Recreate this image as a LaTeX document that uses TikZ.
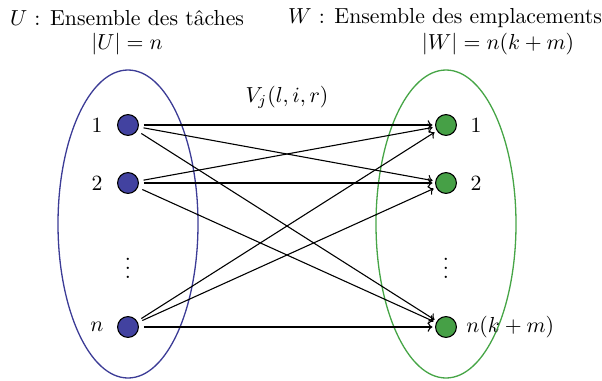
\documentclass[tikz,border=0pt]{standalone}
\usetikzlibrary{arrows.meta}
\definecolor{ublue}{RGB}{66,66,160}
\definecolor{eblue}{RGB}{60,60,150}
\definecolor{wgreen}{RGB}{70,160,70}
\definecolor{egreen}{RGB}{70,165,70}
\begin{document}
\begin{tikzpicture}[x=0.46pt,y=-0.46pt,
  unode/.style={circle,draw=black,fill=ublue,line width=0.5pt,minimum size=9.6pt,inner sep=0pt},
  wnode/.style={circle,draw=black,fill=wgreen,line width=0.5pt,minimum size=9.6pt,inner sep=0pt},
  edge/.style={-{To[length=2.2pt,width=4.4pt]},line width=0.5pt,shorten <=2.2pt,shorten >=1.2pt},
  lbl/.style={inner sep=0pt}]
\useasboundingbox (0,0) rectangle (602,380);
% ellipses
\draw[eblue,line width=0.6pt] (128,224) ellipse [x radius=70, y radius=154];
\draw[egreen,line width=0.6pt] (446,224) ellipse [x radius=70, y radius=154];
% titles
\node[lbl] (tu) at (127,18) {$U$ : Ensemble des t\^aches};
\node[lbl] (tu2) at (127,44) {$|U|=n$};
\node[lbl] (tw) at (445,18) {$W$ : Ensemble des emplacements};
\node[lbl] (tw2) at (498,44) {$|W|=n(k+m)$};
% nodes
\node[unode] (u1) at (128,125) {};
\node[unode] (u2) at (128,183) {};
\node[unode] (un) at (128,327) {};
\node[wnode] (w1) at (446,125) {};
\node[wnode] (w2) at (446,183) {};
\node[wnode] (wn) at (446,327) {};
% labels
\node[lbl] (lu1) at (97,125) {$1$};
\node[lbl] (lu2) at (97,183) {$2$};
\node[lbl] (lun) at (97,327) {$n$};
\node[lbl] (lw1) at (476,125) {$1$};
\node[lbl] (lw2) at (476,183) {$2$};
\node[lbl,anchor=west] (lwn) at (466,327) {$n(k+m)$};
\node[lbl] (du) at (128,262) {$\vdots$};
\node[lbl] (dw) at (446,262) {$\vdots$};
\node[lbl] (v) at (287,97) {$V_j(l,i,r)$};
% edges
\foreach \a in {u1,u2,un}{
  \foreach \b in {w1,w2,wn}{
    \draw[edge] (\a) -- (\b);
  }
}
\end{tikzpicture}
\end{document}
